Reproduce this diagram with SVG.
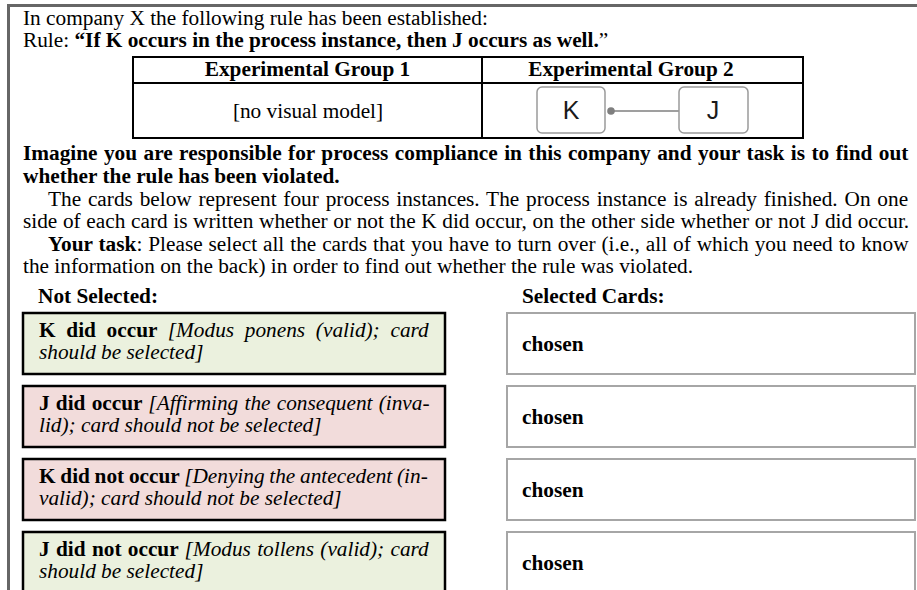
<svg xmlns="http://www.w3.org/2000/svg" width="917" height="590" viewBox="0 0 917 590">
<style>
text { font-family: "Liberation Serif", "Times New Roman", serif; font-size: 21.3px; fill: #000; }
.b { font-weight: bold; }
.i { font-style: italic; }
.frame { stroke: #666; stroke-width: 3; fill: none; }
.tbl { stroke: #000; stroke-width: 2; fill: none; }
.node rect { fill: #fff; stroke: #9a9a9a; stroke-width: 1.5; }
text.nl { font-family: "Liberation Sans", Arial, sans-serif; font-size: 25px; text-anchor: middle; fill: #1a1a1a; }
.green { fill: #ebf1de; stroke: #000; stroke-width: 2.5; }
.red { fill: #f2dcdb; stroke: #000; stroke-width: 2.5; }
.sel { fill: #fff; stroke: #a6a6a6; stroke-width: 2; }
.conn { stroke: #7f7f7f; stroke-width: 1.5; fill: none; }
.dot { fill: #7f7f7f; }
.mid { text-anchor: middle; }
</style>
<rect width="917" height="590" fill="#fff"/>
<path class="frame" d="M8.5 590 V5.5 H917"/>

<text x="23" y="25">In company X the following rule has been established:</text>
<text x="23" y="47.2">Rule: <tspan class="b">“If K occurs in the process instance, then J occurs as well.</tspan>”</text>

<g id="table">
  <rect class="tbl" x="133" y="57" width="670" height="81"/>
  <line class="tbl" x1="133" y1="83" x2="803" y2="83"/>
  <line class="tbl" x1="482" y1="57" x2="482" y2="138"/>
  <text class="b mid" x="307.5" y="76">Experimental Group 1</text>
  <text class="b mid" x="631" y="76">Experimental Group 2</text>
  <text class="mid" x="308" y="118">[no visual model]</text>
</g>

<g id="connectors">
  <line class="conn" x1="611" y1="111" x2="679" y2="111"/>
  <circle class="dot" cx="611" cy="111" r="3.8"/>
</g>
<g id="node-K" class="node">
  <rect x="537" y="87" width="68" height="46" rx="5"/>
  <text class="nl" x="571" y="119">K</text>
</g>
<g id="node-J" class="node">
  <rect x="679" y="87" width="69" height="46" rx="5"/>
  <text class="nl" x="713" y="119">J</text>
</g>

<text class="b" x="23" y="160" word-spacing="1.1">Imagine you are responsible for process compliance in this company and your task is to find out</text>
<text class="b" x="23" y="183">whether the rule has been violated.</text>
<text x="48" y="205.5" word-spacing="1.48">The cards below represent four process instances. The process instance is already finished. On one</text>
<text x="23" y="228" word-spacing="0.32">side of each card is written whether or not the K did occur, on the other side whether or not J did occur.</text>
<text x="48" y="250.5" word-spacing="0.61"><tspan class="b">Your task</tspan>: Please select all the cards that you have to turn over (i.e., all of which you need to know</text>
<text x="23" y="273">the information on the back) in order to find out whether the rule was violated.</text>

<text class="b" x="38" y="303">Not Selected:</text>
<text class="b" x="522" y="303">Selected Cards:</text>

<g id="card-1">
  <rect class="green" x="23" y="313" width="422" height="61"/>
  <text x="39" y="337" word-spacing="5.4"><tspan class="b">K did occur </tspan><tspan class="i">[Modus ponens (valid); card</tspan></text>
  <text class="i" x="39" y="359">should be selected]</text>
</g>
<g id="card-2">
  <rect class="red" x="23" y="386" width="422" height="61"/>
  <text x="39" y="410" word-spacing="0.88"><tspan class="b">J did occur </tspan><tspan class="i">[Affirming the consequent (inva-</tspan></text>
  <text class="i" x="39" y="432">lid); card should not be selected]</text>
</g>
<g id="card-3">
  <rect class="red" x="23" y="459" width="422" height="61"/>
  <text x="39" y="483" word-spacing="-0.6"><tspan class="b">K did not occur </tspan><tspan class="i">[Denying the antecedent (in-</tspan></text>
  <text class="i" x="39" y="505">valid); card should not be selected]</text>
</g>
<g id="card-4">
  <rect class="green" x="23" y="532" width="422" height="61"/>
  <text x="39" y="556" word-spacing="1.0"><tspan class="b">J did not occur </tspan><tspan class="i">[Modus tollens (valid); card</tspan></text>
  <text class="i" x="39" y="578">should be selected]</text>
</g>

<g id="selected-1">
  <rect class="sel" x="507" y="313" width="408" height="61"/>
  <text class="b" x="522" y="350.5">chosen</text>
</g>
<g id="selected-2">
  <rect class="sel" x="507" y="386" width="408" height="61"/>
  <text class="b" x="522" y="423.5">chosen</text>
</g>
<g id="selected-3">
  <rect class="sel" x="507" y="459" width="408" height="61"/>
  <text class="b" x="522" y="496.5">chosen</text>
</g>
<g id="selected-4">
  <rect class="sel" x="507" y="532" width="408" height="61"/>
  <text class="b" x="522" y="569.5">chosen</text>
</g>
</svg>
